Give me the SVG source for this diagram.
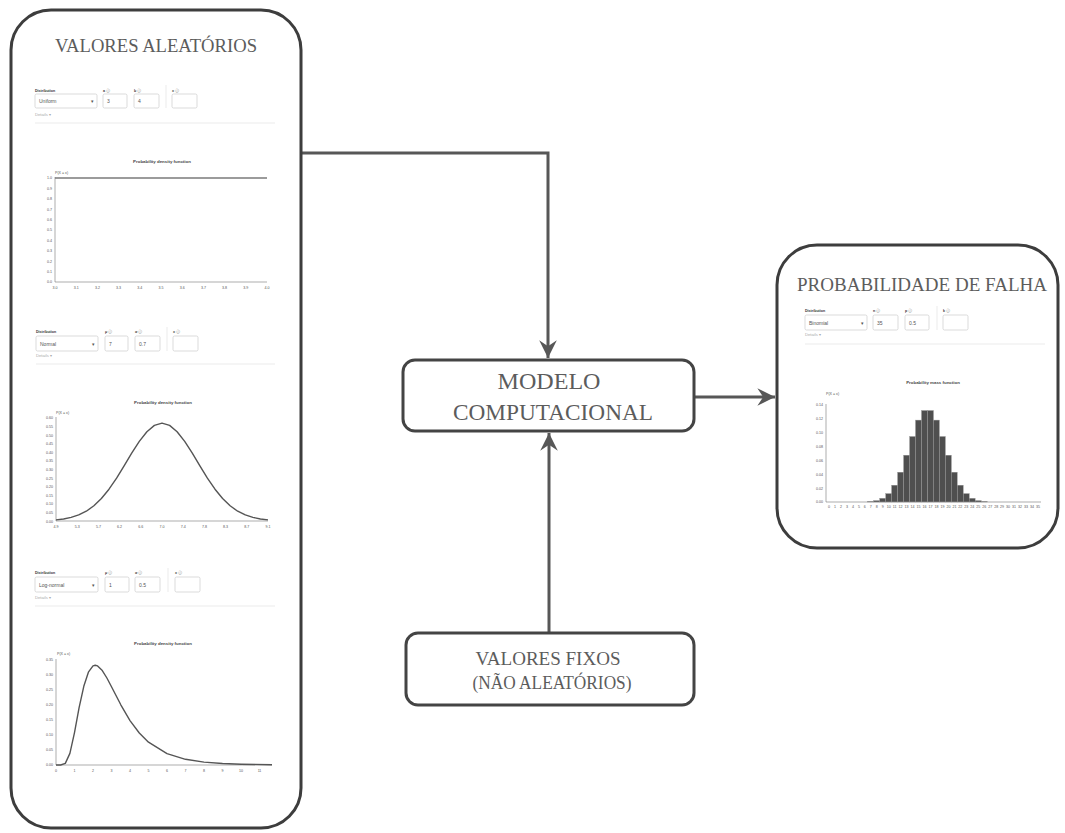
<svg xmlns="http://www.w3.org/2000/svg" width="1065" height="833" viewBox="0 0 1065 833">
<style>
.frame{fill:#fff;stroke:#3d3d3d;stroke-width:3}
.box{fill:#fff;stroke:#444;stroke-width:3}
.conn{fill:none;stroke:#575757;stroke-width:3}
.title{font-family:"Liberation Serif","Times New Roman",serif;fill:#5c5c5c;text-anchor:middle}
.ui{font-family:"Liberation Sans",Arial,sans-serif;fill:#444}
.lbl{font-size:3.6px;font-weight:bold;fill:#333}
.ic{font-family:"DejaVu Sans",sans-serif;font-weight:normal;fill:#666}
.val{font-size:5px;fill:#555}
.det{font-size:4.2px;fill:#aaa}
.inp{fill:#fff;stroke:#ccc;stroke-width:0.7}
.sep{stroke:#e6e6e6;stroke-width:0.8}
.ctitle{font-size:4.4px;font-weight:bold;fill:#444;text-anchor:middle}
.tick{font-size:3.6px;fill:#555}
.yt{text-anchor:end}
.xt{text-anchor:middle}
.axis{stroke:#777;stroke-width:0.6;fill:none}
.curve{fill:none;stroke:#555;stroke-width:1.4;stroke-linejoin:round}
.bar{fill:#4f4f4f;stroke:#999;stroke-width:0.4}
</style>
<defs>
<marker id="arr" markerUnits="userSpaceOnUse" markerWidth="20" markerHeight="20" viewBox="-16 -8 17 16" refX="0" refY="0" orient="auto">
<path d="M0,0 L-15,-7.5 L-10,0 L-15,7.5 Z" fill="#575757"/>
</marker>
</defs>

<g id="connectors">
<path class="conn" d="M301,153 H548 V358" marker-end="url(#arr)"/>
<path class="conn" d="M694,397 H775" marker-end="url(#arr)"/>
<path class="conn" d="M549,633 V433" marker-end="url(#arr)"/>
</g>

<g id="valores-aleatorios">
<rect class="frame" x="11" y="10" width="290" height="818" rx="40" ry="40"/>
<text class="title" x="156" y="52" font-size="19.5" textLength="202" lengthAdjust="spacingAndGlyphs">VALORES ALEATÓRIOS</text>

<!-- Panel 1: Uniform -->
<g class="ui">
<text class="lbl" x="35" y="92">Distribution</text>
<rect class="inp" x="35" y="94" width="62" height="14" rx="1.5"/>
<text class="val" x="39" y="103">Uniform</text>
<text class="val" x="91" y="103" font-size="4">▾</text>
<text class="lbl" x="103" y="92">a <tspan class="ic">ⓘ</tspan></text>
<rect class="inp" x="103" y="94" width="24" height="14" rx="1.5"/>
<text class="val" x="107" y="103">3</text>
<text class="lbl" x="134" y="92">b <tspan class="ic">ⓘ</tspan></text>
<rect class="inp" x="134" y="94" width="25" height="14" rx="1.5"/>
<text class="val" x="138" y="103">4</text>
<line class="sep" x1="166" y1="85" x2="166" y2="108"/>
<text class="lbl" x="172" y="92">x <tspan class="ic">ⓘ</tspan></text>
<rect class="inp" x="172" y="94" width="25" height="14" rx="1.5"/>
<text class="det" x="35" y="116">Details ▾</text>
<line class="sep" x1="35" y1="123" x2="275" y2="123"/>
</g>

<!-- Chart 1 -->
<g class="ui">
<text class="ctitle" x="162" y="163">Probability density function</text>
<text class="tick" x="55" y="174">P(X = x)</text>
<path class="axis" d="M55,177 V282 H267"/>
<g class="tick yt">
<text x="52" y="179.3">1.0</text><text x="52" y="189.7">0.9</text><text x="52" y="200.1">0.8</text><text x="52" y="210.5">0.7</text><text x="52" y="220.9">0.6</text><text x="52" y="231.3">0.5</text><text x="52" y="241.7">0.4</text><text x="52" y="252.1">0.3</text><text x="52" y="262.5">0.2</text><text x="52" y="272.9">0.1</text><text x="52" y="283.3">0.0</text>
</g>
<g class="tick xt">
<text x="55" y="288.5">3.0</text><text x="76.2" y="288.5">3.1</text><text x="97.4" y="288.5">3.2</text><text x="118.6" y="288.5">3.3</text><text x="139.8" y="288.5">3.4</text><text x="161" y="288.5">3.5</text><text x="182.2" y="288.5">3.6</text><text x="203.4" y="288.5">3.7</text><text x="224.6" y="288.5">3.8</text><text x="245.8" y="288.5">3.9</text><text x="267" y="288.5">4.0</text>
</g>
<line x1="55" y1="178" x2="267" y2="178" stroke="#7a7a7a" stroke-width="1.6"/>
</g>

<!-- Panel 2: Normal -->
<g class="ui">
<text class="lbl" x="36" y="333">Distribution</text>
<rect class="inp" x="36" y="336" width="62" height="15" rx="1.5"/>
<text class="val" x="40" y="345.5">Normal</text>
<text class="val" x="92" y="345.5" font-size="4">▾</text>
<text class="lbl" x="105" y="333">μ <tspan class="ic">ⓘ</tspan></text>
<rect class="inp" x="105" y="336" width="23" height="15" rx="1.5"/>
<text class="val" x="109" y="345.5">7</text>
<text class="lbl" x="135" y="333">σ <tspan class="ic">ⓘ</tspan></text>
<rect class="inp" x="135" y="336" width="25" height="15" rx="1.5"/>
<text class="val" x="139" y="345.5">0.7</text>
<line class="sep" x1="167" y1="327" x2="167" y2="351"/>
<text class="lbl" x="173" y="333">x <tspan class="ic">ⓘ</tspan></text>
<rect class="inp" x="173" y="336" width="25" height="15" rx="1.5"/>
<text class="det" x="36" y="357">Details ▾</text>
<line class="sep" x1="36" y1="364" x2="275" y2="364"/>
</g>

<!-- Chart 2 -->
<g class="ui">
<text class="ctitle" x="163" y="404">Probability density function</text>
<text class="tick" x="56" y="414">P(X = x)</text>
<path class="axis" d="M56,417 V521 H268"/>
<g class="tick yt">
<text x="53" y="419.3">0.60</text><text x="53" y="427.9">0.55</text><text x="53" y="436.5">0.50</text><text x="53" y="445.1">0.45</text><text x="53" y="453.7">0.40</text><text x="53" y="462.3">0.35</text><text x="53" y="470.9">0.30</text><text x="53" y="479.5">0.25</text><text x="53" y="488.1">0.20</text><text x="53" y="496.7">0.15</text><text x="53" y="505.3">0.10</text><text x="53" y="513.9">0.05</text><text x="53" y="522.5">0.00</text>
</g>
<g class="tick xt">
<text x="56" y="527.5">4.9</text><text x="77.2" y="527.5">5.3</text><text x="98.4" y="527.5">5.7</text><text x="119.6" y="527.5">6.2</text><text x="140.8" y="527.5">6.6</text><text x="162" y="527.5">7.0</text><text x="183.2" y="527.5">7.4</text><text x="204.4" y="527.5">7.8</text><text x="225.6" y="527.5">8.3</text><text x="246.8" y="527.5">8.7</text><text x="268" y="527.5">9.1</text>
</g>
<path class="curve" d="M56,519.9 L63.6,519.0 L71.1,517.4 L78.7,514.9 L86.3,511.2 L93.9,505.8 L101.4,498.5 L109,489.2 L116.6,478.2 L124.1,465.9 L131.7,453.2 L139.3,441.4 L146.9,431.7 L154.4,425.4 L162,423.2 L169.6,425.4 L177.1,431.7 L184.7,441.4 L192.3,453.2 L199.9,465.9 L207.4,478.2 L215,489.2 L222.6,498.5 L230.1,505.8 L237.7,511.2 L245.3,514.9 L252.9,517.4 L260.4,519.0 L268,519.9"/>
</g>

<!-- Panel 3: Log-normal -->
<g class="ui">
<text class="lbl" x="35" y="574">Distribution</text>
<rect class="inp" x="35" y="577" width="63" height="15" rx="1.5"/>
<text class="val" x="39" y="586.5">Log-normal</text>
<text class="val" x="92" y="586.5" font-size="4">▾</text>
<text class="lbl" x="105" y="574">μ <tspan class="ic">ⓘ</tspan></text>
<rect class="inp" x="105" y="577" width="24" height="15" rx="1.5"/>
<text class="val" x="109" y="586.5">1</text>
<text class="lbl" x="135" y="574">σ <tspan class="ic">ⓘ</tspan></text>
<rect class="inp" x="135" y="577" width="25" height="15" rx="1.5"/>
<text class="val" x="139" y="586.5">0.5</text>
<line class="sep" x1="168" y1="568" x2="168" y2="592"/>
<text class="lbl" x="175" y="574">x <tspan class="ic">ⓘ</tspan></text>
<rect class="inp" x="175" y="577" width="25" height="15" rx="1.5"/>
<text class="det" x="35" y="599">Details ▾</text>
<line class="sep" x1="35" y1="606" x2="275" y2="606"/>
</g>

<!-- Chart 3 -->
<g class="ui">
<text class="ctitle" x="163" y="645">Probability density function</text>
<text class="tick" x="57" y="655">P(X = x)</text>
<path class="axis" d="M56,659 V765 H272"/>
<g class="tick yt">
<text x="53" y="661.3">0.35</text><text x="53" y="676.3">0.30</text><text x="53" y="691.3">0.25</text><text x="53" y="706.3">0.20</text><text x="53" y="721.3">0.15</text><text x="53" y="736.3">0.10</text><text x="53" y="751.3">0.05</text><text x="53" y="766.3">0.00</text>
</g>
<g class="tick xt">
<text x="56" y="771.5">0</text><text x="74.5" y="771.5">1</text><text x="93" y="771.5">2</text><text x="111.5" y="771.5">3</text><text x="130" y="771.5">4</text><text x="148.5" y="771.5">5</text><text x="167" y="771.5">6</text><text x="185.5" y="771.5">7</text><text x="204" y="771.5">8</text><text x="222.5" y="771.5">9</text><text x="241" y="771.5">10</text><text x="259.5" y="771.5">11</text>
</g>
<path class="curve" d="M56,765 L60.6,765 L65.3,763.4 L69.9,753.4 L74.5,732.6 L79.1,707.7 L83.8,686.3 L88.4,672.2 L93,665.9 L95.2,665.3 L97.6,665.9 L102.3,670.6 L106.9,678 L111.5,686.8 L120.8,704.8 L130,720.6 L139.3,733 L148.5,742.2 L167,753.6 L185.5,759.3 L204,762.1 L222.5,763.5 L241,764.2 L272,764.7"/>
</g>
</g>

<g id="modelo-computacional">
<rect class="box" x="403" y="360" width="291" height="71" rx="12" ry="12"/>
<text class="title" x="549" y="389" font-size="23.5" textLength="103" lengthAdjust="spacingAndGlyphs">MODELO</text>
<text class="title" x="553" y="420" font-size="23.5" textLength="200" lengthAdjust="spacingAndGlyphs">COMPUTACIONAL</text>
</g>

<g id="valores-fixos">
<rect class="box" x="406" y="633" width="288" height="72" rx="12" ry="12"/>
<text class="title" x="548" y="665" font-size="19.5" textLength="145" lengthAdjust="spacingAndGlyphs">VALORES FIXOS</text>
<text class="title" x="552" y="689" font-size="19.5" textLength="159" lengthAdjust="spacingAndGlyphs">(NÃO ALEATÓRIOS)</text>
</g>

<g id="probabilidade-de-falha">
<rect class="frame" x="777" y="245" width="281" height="303" rx="40" ry="40"/>
<text class="title" x="922" y="291" font-size="19.5" textLength="250" lengthAdjust="spacingAndGlyphs">PROBABILIDADE DE FALHA</text>

<g class="ui">
<text class="lbl" x="805" y="312">Distribution</text>
<rect class="inp" x="805" y="315" width="62" height="15" rx="1.5"/>
<text class="val" x="809" y="324.5">Binomial</text>
<text class="val" x="861" y="324.5" font-size="4">▾</text>
<text class="lbl" x="873" y="312">n <tspan class="ic">ⓘ</tspan></text>
<rect class="inp" x="873" y="315" width="25" height="15" rx="1.5"/>
<text class="val" x="877" y="324.5">35</text>
<text class="lbl" x="905" y="312">p <tspan class="ic">ⓘ</tspan></text>
<rect class="inp" x="905" y="315" width="24" height="15" rx="1.5"/>
<text class="val" x="909" y="324.5">0.5</text>
<line class="sep" x1="937" y1="306" x2="937" y2="330"/>
<text class="lbl" x="943" y="312">k <tspan class="ic">ⓘ</tspan></text>
<rect class="inp" x="943" y="315" width="25" height="15" rx="1.5"/>
<text class="det" x="805" y="336">Details ▾</text>
<line class="sep" x1="805" y1="344" x2="1045" y2="344"/>
</g>

<g class="ui">
<text class="ctitle" x="933" y="384">Probability mass function</text>
<text class="tick" x="826" y="395">P(X = x)</text>
<g>
<rect class="bar" x="867.8" y="501.5" width="5.97" height="0.5"/>
<rect class="bar" x="873.7" y="500.6" width="5.97" height="1.4"/>
<rect class="bar" x="879.7" y="498.3" width="5.97" height="3.7"/>
<rect class="bar" x="885.7" y="493.6" width="5.97" height="8.4"/>
<rect class="bar" x="891.6" y="485.2" width="5.97" height="16.8"/>
<rect class="bar" x="897.6" y="472.2" width="5.97" height="29.8"/>
<rect class="bar" x="903.6" y="455.2" width="5.97" height="46.8"/>
<rect class="bar" x="909.6" y="436.5" width="5.97" height="65.5"/>
<rect class="bar" x="915.5" y="420.1" width="5.97" height="81.9"/>
<rect class="bar" x="921.5" y="410.5" width="5.97" height="91.5"/>
<rect class="bar" x="927.5" y="410.5" width="5.97" height="91.5"/>
<rect class="bar" x="933.4" y="420.1" width="5.97" height="81.9"/>
<rect class="bar" x="939.4" y="436.5" width="5.97" height="65.5"/>
<rect class="bar" x="945.4" y="455.2" width="5.97" height="46.8"/>
<rect class="bar" x="951.3" y="472.2" width="5.97" height="29.8"/>
<rect class="bar" x="957.3" y="485.2" width="5.97" height="16.8"/>
<rect class="bar" x="963.3" y="493.6" width="5.97" height="8.4"/>
<rect class="bar" x="969.2" y="498.3" width="5.97" height="3.7"/>
<rect class="bar" x="975.2" y="500.6" width="5.97" height="1.4"/>
<rect class="bar" x="981.2" y="501.5" width="5.97" height="0.5"/>
</g>
<path class="axis" d="M826,404 V502 H1041"/>
<g class="tick yt">
<text x="823" y="406.3">0.14</text><text x="823" y="420.2">0.12</text><text x="823" y="434.1">0.10</text><text x="823" y="448">0.08</text><text x="823" y="461.9">0.06</text><text x="823" y="475.8">0.04</text><text x="823" y="489.7">0.02</text><text x="823" y="503.3">0.00</text>
</g>
<g class="tick xt" font-size="3.2">
<text x="829" y="508">0</text><text x="835" y="508">1</text><text x="840.9" y="508">2</text><text x="846.9" y="508">3</text><text x="852.9" y="508">4</text><text x="858.9" y="508">5</text><text x="864.8" y="508">6</text><text x="870.8" y="508">7</text><text x="876.8" y="508">8</text><text x="882.7" y="508">9</text><text x="888.7" y="508">10</text><text x="894.7" y="508">11</text><text x="900.6" y="508">12</text><text x="906.6" y="508">13</text><text x="912.6" y="508">14</text><text x="918.6" y="508">15</text><text x="924.5" y="508">16</text><text x="930.5" y="508">17</text><text x="936.5" y="508">18</text><text x="942.4" y="508">19</text><text x="948.4" y="508">20</text><text x="954.4" y="508">21</text><text x="960.3" y="508">22</text><text x="966.3" y="508">23</text><text x="972.3" y="508">24</text><text x="978.3" y="508">25</text><text x="984.2" y="508">26</text><text x="990.2" y="508">27</text><text x="996.2" y="508">28</text><text x="1002.1" y="508">29</text><text x="1008.1" y="508">30</text><text x="1014.1" y="508">31</text><text x="1020" y="508">32</text><text x="1026" y="508">33</text><text x="1032" y="508">34</text><text x="1038" y="508">35</text>
</g>
</g>
</g>
</svg>
